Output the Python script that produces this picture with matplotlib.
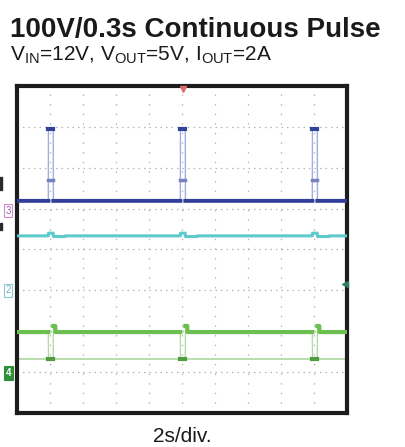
import numpy as np
import matplotlib
matplotlib.use("Agg")
import matplotlib.pyplot as plt
from matplotlib.patches import Rectangle

plt.rcParams['font.family'] = ['Liberation Sans', 'DejaVu Sans']
plt.rcParams['mathtext.fontset'] = 'custom'
plt.rcParams['mathtext.rm'] = 'Liberation Sans'
plt.rcParams['mathtext.it'] = 'Liberation Sans:italic'
plt.rcParams['mathtext.bf'] = 'Liberation Sans:bold'

# ---- data (read from the scope capture) ----
pulse_start_s = [1.9, 9.9, 17.9]      # surge pulse start times (s)
pulse_width_s = 0.3                   # pulse width (s)
vin_base_v = 12.0                     # V_IN baseline
vin_pulse_v = 100.0                   # V_IN surge level
vin_mid_sample_v = 38.0               # visible sample on rising edge
vout_v = 5.0                          # V_OUT
vout_bump_v = 0.25                    # V_OUT bump during pulse
vout_after_v = -0.06                  # V_OUT sag just after pulse
iout_a = 2.0                          # I_OUT
iout_dip_a = 0.68                     # I_OUT during pulse
iout_overshoot_a = 2.3                # I_OUT overshoot after pulse
ref_level_a = 0.68                    # flat reference trace
time_span_s = 20.0                    # 10 div x 2 s/div

# ---- scope settings (div positions / scales) ----
CH3_ZERO, CH3_SCALE = 0.95, 50.0      # V_IN: 50 V/div
CH2_ZERO, CH2_SCALE = -1.0, 3.75      # V_OUT
CH4_ZERO, CH4_SCALE = -3.02, 2.0      # I_OUT: 2 A/div
TRIG_LEVEL_DIV = -0.84

t = np.linspace(0, time_span_s, 8001)
in_pulse = np.zeros_like(t, dtype=bool)
after = np.zeros_like(t, dtype=bool)
over = np.zeros_like(t, dtype=bool)
for s in pulse_start_s:
    in_pulse |= (t >= s) & (t <= s + pulse_width_s)
    after |= (t > s + pulse_width_s) & (t <= s + pulse_width_s + 0.7)
    over |= (t > s + pulse_width_s) & (t <= s + pulse_width_s + 0.12)

vin = np.where(in_pulse, vin_pulse_v, vin_base_v)
vout = np.where(in_pulse, vout_v + vout_bump_v, np.where(after, vout_v + vout_after_v, vout_v))
iout = np.where(in_pulse, iout_dip_a, np.where(over, iout_overshoot_a, iout_a))

y_vin = CH3_ZERO + vin / CH3_SCALE
y_vout = CH2_ZERO + vout / CH2_SCALE
y_iout = CH4_ZERO + iout / CH4_SCALE

W, H = 406, 447
fig = plt.figure(figsize=(W / 100, H / 100), dpi=100)
ax = fig.add_axes([17 / W, 1 - 413 / H, 330 / W, 327 / H])
ax.set_xlim(0, time_span_s)
ax.set_ylim(-4, 4)
ax.set_xticks([])
ax.set_yticks([])

# grid
for gx in np.arange(2, time_span_s, 2):
    ax.axvline(gx, color='#b5b5b5', lw=0.9, ls=(0, (1.2, 6.5)), zorder=1)
for gy in np.arange(-3, 4, 1):
    ax.axhline(gy, color='#b5b5b5', lw=0.9, ls=(0, (1.2, 3.2)), zorder=1)

# reference trace
ax.plot([0, time_span_s], [CH4_ZERO + ref_level_a / CH4_SCALE] * 2, color='#b4dba8', lw=1.3, zorder=2)

# I_OUT (green)
ax.plot(t, y_iout, color='#b0d9a4', lw=0.9, zorder=3)
ax.plot(t, np.where(in_pulse, np.nan, y_iout), color='#6cc04f', lw=3.0, zorder=4)
for s in pulse_start_s:
    ax.plot([s, s + pulse_width_s], [CH4_ZERO + iout_dip_a / CH4_SCALE] * 2, color='#4f9d3e', lw=3, zorder=5)

# V_OUT (cyan)
ax.plot(t, y_vout, color='#5ccacc', lw=2.2, zorder=4)

# V_IN (blue)
ax.plot(t, y_vin, color='#a3aee0', lw=1.0, zorder=3)
ax.plot(t, np.where(in_pulse, np.nan, y_vin), color='#2f3f9a', lw=2.8, zorder=4)
for s in pulse_start_s:
    ax.plot([s, s + pulse_width_s], [CH3_ZERO + vin_pulse_v / CH3_SCALE] * 2, color='#33439c', lw=3, zorder=5)
    ax.plot([s, s + pulse_width_s], [CH3_ZERO + vin_mid_sample_v / CH3_SCALE] * 2, color='#7682bf', lw=2.5, zorder=5)

# frame
for sp in ax.spines.values():
    sp.set_linewidth(3)
    sp.set_color('#1c1c1c')

# trigger markers
ax.plot(pulse_start_s[1] + pulse_width_s / 2, 3.93, marker='v', color='#e06a6a', ms=4, clip_on=False, zorder=6)
ax.plot(time_span_s - 0.15, TRIG_LEVEL_DIV, marker='<', color='#2d7d5e', ms=5, clip_on=False, zorder=6)

# channel markers
tr = ax.get_yaxis_transform()
ax.text(-0.027, CH3_ZERO, '3', transform=tr, ha='center', va='center', fontsize=7, color='#a262aa',
        bbox=dict(boxstyle='square,pad=0.15', fc='white', ec='#c98cc9', lw=0.8), clip_on=False)
ax.text(-0.027, CH2_ZERO, '2', transform=tr, ha='center', va='center', fontsize=7, color='#70b0c8',
        bbox=dict(boxstyle='square,pad=0.15', fc='white', ec='#90c6d6', lw=0.8), clip_on=False)
ax.text(-0.025, CH4_ZERO, '4', transform=tr, ha='center', va='center', fontsize=7, color='white',
        fontweight='bold', bbox=dict(boxstyle='square,pad=0.2', fc='#2f8f3a', ec='#2f8f3a', lw=0.8), clip_on=False)

# left-edge fragments
fig.add_artist(Rectangle((0, 1 - 190 / H), 2 / W, 13 / H, transform=fig.transFigure, color='#2a2a2a'))
fig.add_artist(Rectangle((0, 1 - 230 / H), 2 / W, 7 / H, transform=fig.transFigure, color='#2a2a2a'))

# texts
fig.text(10 / W, 1 - 37 / H, '100V/0.3s Continuous Pulse', fontsize=20, fontweight='bold',
         color='#1a1a1a', va='baseline', ha='left')
fig.text(10 / W, 1 - 61 / H, r'$\mathrm{V_{IN}}$=12V, $\mathrm{V_{OUT}}$=5V, $\mathrm{I_{OUT}}$=2A',
         fontsize=15, color='#1a1a1a', va='baseline', ha='left')
fig.text(153 / W, 1 - 442 / H, '2s/div.', fontsize=15, color='#1a1a1a', va='baseline', ha='left')

fig.savefig('out.png', dpi=100)
